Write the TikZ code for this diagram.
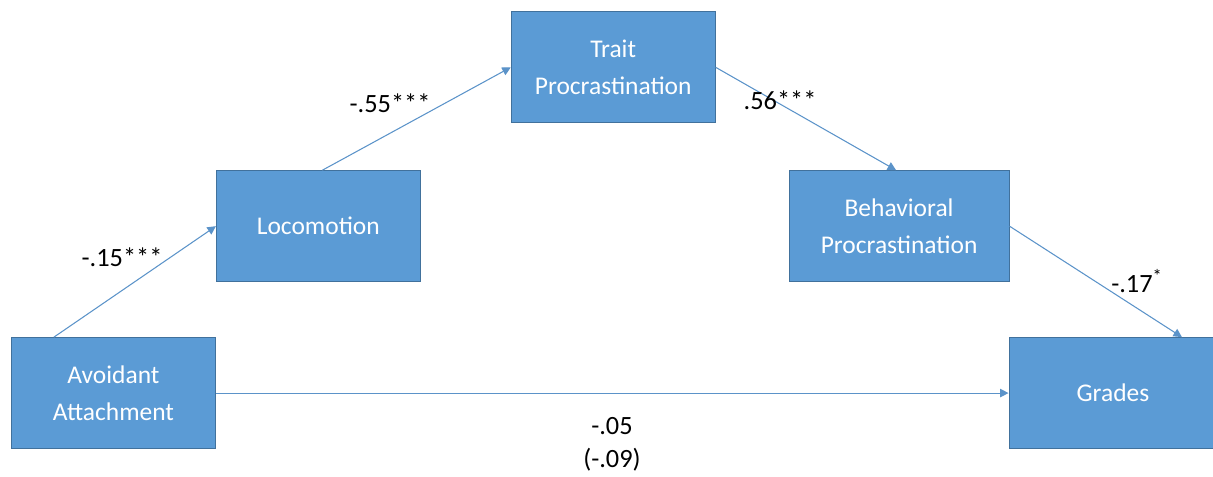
\documentclass[tikz,border=0pt]{standalone}
\usepackage{fontspec}
\setmainfont{Carlito}
\usepackage{tikz}
\usetikzlibrary{arrows.meta}
\usetikzlibrary{positioning}
\definecolor{boxblue}{HTML}{5B9BD5}
\definecolor{boxedge}{HTML}{41719C}
\definecolor{pathblue}{HTML}{5B93C9}
\tikzset{>={Triangle[length=1.7mm,width=1.7mm]}}
\tikzset{path-line/.style={line width=0.6pt, draw=pathblue}}
\tikzset{var-node/.style={draw=boxedge, line width=0.5pt, fill=boxblue, inner sep=0, minimum width=4.08cm, minimum height=2.22cm, align=center, text=white, font=\fontsize{14.5}{21}\selectfont}}
\tikzset{coef/.style={inner sep=0, font=\fontsize{15}{21}\selectfont}}

\begin{document}
\begin{tikzpicture}[]
            \useasboundingbox (0,0) rectangle (24.26,9.52);

            \node[var-node, anchor=south west] (avoid) at (0.22,0.54) {Avoidant\\Attachment};
            \node[var-node, above right=1.1cm and 0cm of avoid.north east] (loco) {Locomotion};
            \node[var-node, above right=0.94cm and 1.8cm of loco.north east] (trait) {Trait\\Procrastination};
            \node[var-node, minimum width=4.4cm, below right=0.94cm and 1.46cm of trait.south east] (behav) {Behavioral\\Procrastination};
            \node[var-node, minimum width=4.16cm, below right=1.1cm and -0.02cm of behav.south east] (grades) {Grades};

            \draw[->, path-line] ([xshift=-1.19cm]avoid.north) -- (loco.west);
            \draw[->, path-line] ([xshift=0.08cm]loco.north) -- (trait.west);
            \draw[->, path-line] (trait.east) -- ([xshift=-0.06cm]behav.north);
            \draw[->, path-line] (behav.east) -- ([xshift=1.38cm]grades.north);
            \draw[->, path-line] (avoid.east) -- (grades.west);

            \node[coef] (c1) at (2.44,4.38) {-.15***};
            \node[coef] (c2) at (7.8,7.46) {-.55***};
            \node[coef] (c3) at (15.6,7.52) {.56***};
            \node[coef] (c4) at (22.74,3.9) {-.17\textsuperscript{*}};
            \node[coef] (c5) at (12.24,1.0) {-.05};
            \node[coef] (c6) at (12.24,0.32) {(-.09)};
        \end{tikzpicture}
\end{document}
